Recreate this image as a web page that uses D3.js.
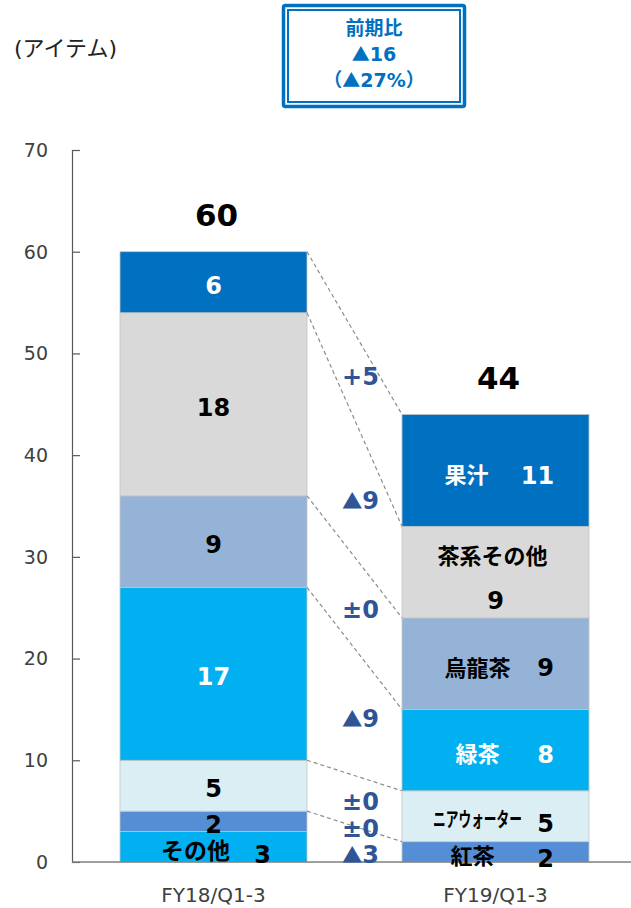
<!DOCTYPE html>
<html lang="ja">
<head>
<meta charset="utf-8">
<script src="https://cdn.jsdelivr.net/npm/d3@7"></script>
<style>
  html, body { margin: 0; padding: 0; background: #fff; }
  svg { display: block; }
  text { font-family: "DejaVu Sans", "Noto Sans CJK JP", sans-serif; }
</style>
</head>
<body>
<svg id="chart" width="631" height="908"></svg>
<script>
// Period columns and the item breakdown, stacked bottom to top
const periods = ["FY18/Q1-3", "FY19/Q1-3"];
const items = ["その他", "紅茶", "ニアウォーター", "緑茶", "烏龍茶", "茶系その他", "果汁"];
const fy18Counts = [3, 2, 5, 17, 9, 18, 6];
const fy19Counts = [0, 2, 5, 8, 9, 9, 11];
const yTicks = [0, 10, 20, 30, 40, 50, 60, 70];
const unitLabel = "(アイテム)";
const changeTitle = "前期比";

const W = 631, H = 908;
const svg = d3.select("#chart");

const itemColor = d3.scaleOrdinal()
  .domain(items)
  .range(["#00b0f0", "#558ed5", "#daeef3", "#00b0f0", "#95b3d7", "#d9d9d9", "#0070c0"]);
const whiteText = new Set(["緑茶", "果汁"]);

const y = d3.scaleLinear().domain([0, 70]).range([862, 150]);
const x = d3.scaleBand().domain(periods).range([72, 637])
  .paddingInner(0.3369).paddingOuter(0.1702);
const bw = x.bandwidth();

// build stacked rows per period
const countsByPeriod = [fy18Counts, fy19Counts];
const rows = periods.map((p, pi) => {
  const obj = { period: p };
  items.forEach((it, i) => obj[it] = countsByPeriod[pi][i]);
  return obj;
});
const stack = d3.stack().keys(items)(rows);

// writes a change string; the ▲ mark is set in the CJK face
function writeChange(sel, s, markSize) {
  sel.text(null);
  if (s.indexOf("▲") >= 0) {
    const parts = s.split("▲");
    if (parts[0]) sel.append("tspan").text(parts[0]);
    sel.append("tspan").attr("font-family", "Noto Sans CJK JP")
      .attr("font-size", markSize).text("▲");
    sel.append("tspan").text(parts[1]);
  } else {
    sel.text(s);
  }
}

// y axis
const yAxis = d3.axisRight(y).tickValues(yTicks).tickSize(8).tickFormat("");
const ga = svg.append("g").attr("transform", "translate(72,0)").call(yAxis);
ga.select(".domain").attr("stroke", "#595959").attr("stroke-width", 1.2);
ga.selectAll(".tick line").attr("stroke", "#595959").attr("stroke-width", 1.2);
svg.append("g").selectAll("text").data(yTicks).join("text")
  .attr("x", 48).attr("y", d => y(d)).attr("dy", "0.36em")
  .attr("text-anchor", "end").attr("font-size", 19).attr("fill", "#404040")
  .text(d => d);

// bars
const segs = [];
stack.forEach((layer, li) => {
  layer.forEach((s, pi) => {
    segs.push({ item: items[li], idx: li, pi, y0: s[0], y1: s[1], v: s[1] - s[0], period: periods[pi] });
  });
});
svg.append("g").selectAll("rect").data(segs.filter(d => d.v > 0)).join("rect")
  .attr("x", d => x(d.period))
  .attr("y", d => y(d.y1))
  .attr("width", bw)
  .attr("height", d => y(d.y0) - y(d.y1))
  .attr("fill", d => itemColor(d.item))
  .attr("stroke", "#c4c4c4").attr("stroke-width", 0.8);

// baseline
svg.append("line").attr("x1", 72).attr("x2", W).attr("y1", y(0)).attr("y2", y(0))
  .attr("stroke", "#7f7f7f").attr("stroke-width", 1.6);

// dashed connectors between matching segment tops
const s18 = segs.filter(d => d.pi === 0), s19 = segs.filter(d => d.pi === 1);
const xR = x(periods[0]) + bw, xL = x(periods[1]);
const connectors = items.map((it, i) => ({ a: s18[i], b: s19[i] })).filter(c => c.b.v > 0);
svg.append("g").selectAll("line").data(connectors).join("line")
  .attr("x1", xR).attr("y1", c => y(c.a.y1))
  .attr("x2", xL).attr("y2", c => y(c.b.y1))
  .attr("stroke", "#8c8c8c").attr("stroke-width", 1.2).attr("stroke-dasharray", "4,3");

// change labels between the bars
const fmtChange = d => d > 0 ? "+" + d : d < 0 ? "▲" + Math.abs(d) : "±0";
const changeNudge = { "茶系その他": 12, "烏龍茶": 7, "緑茶": 6, "紅茶": -8 };
const changes = items.map((it, i) => {
  const a = s18[i], b = s19[i];
  const mid = ((a.y0 + a.y1) / 2 + (b.y0 + b.y1) / 2) / 2;
  return { item: it, d: fy19Counts[i] - fy18Counts[i], cy: y(mid) + (changeNudge[it] || 0) };
});
svg.append("g").selectAll("text").data(changes).join("text")
  .attr("x", (xR + xL) / 2 + 6).attr("y", d => d.cy).attr("dy", "0.36em")
  .attr("text-anchor", "middle").attr("font-size", 24).attr("font-weight", 700)
  .attr("fill", "#2f5597").each(function (d) { writeChange(d3.select(this), fmtChange(d.d), "0.85em"); });

// segment labels
const lab = svg.append("g").attr("font-weight", 700).attr("font-size", 24);
function put(txt, cx, cy, color, size, extra) {
  const t = lab.append("text").attr("x", cx).attr("y", cy).attr("dy", "0.36em")
    .attr("text-anchor", "middle").attr("fill", color).text(txt);
  if (size) t.attr("font-size", size);
  if (extra) extra(t);
  return t;
}
const c18 = x(periods[0]) + bw / 2, c19 = x(periods[1]) + bw / 2;
s18.forEach(d => {
  const cy = (y(d.y0) + y(d.y1)) / 2 + 3;
  const col = whiteText.has(d.item) ? "#fff" : "#000";
  if (d.item === "その他") {
    put(d.item, c18 - 18, cy + 1, col, 23);
    put(d.v, c18 + 49, cy + 5, col);
  } else {
    put(d.v, c18, cy, col);
  }
});
s19.filter(d => d.v > 0).forEach(d => {
  const cy = (y(d.y0) + y(d.y1)) / 2 + 4;
  const col = whiteText.has(d.item) ? "#fff" : "#000";
  if (d.item === "茶系その他") {
    put(d.item, c19 - 3, cy - 20, col, 22);
    put(d.v, c19, cy + 24, col);
  } else if (d.item === "果汁") {
    put(d.item, c19 - 29, cy + 1, col, 22);
    put(d.v, c19 + 42, cy + 1, col);
  } else if (d.item === "ニアウォーター") {
    put(d.item, c19 - 18, cy, col, 20, t => t.attr("textLength", 89).attr("lengthAdjust", "spacingAndGlyphs"));
    put(d.v, c19 + 50, cy + 3, col);
  } else if (d.item === "紅茶") {
    put(d.item, c19 - 23, cy, col, 22);
    put(d.v, c19 + 50, cy + 3, col);
  } else {
    put(d.item, c19 - 18, cy, col, 22);
    put(d.v, c19 + 50, cy, col);
  }
});

// totals above bars
const totals = countsByPeriod.map(a => d3.sum(a));
svg.append("g").selectAll("text").data(totals).join("text")
  .attr("x", (d, i) => x(periods[i]) + bw / 2 + 3)
  .attr("y", d => y(d) - 37).attr("dy", "0.36em")
  .attr("text-anchor", "middle").attr("font-size", 31).attr("font-weight", 700)
  .attr("fill", "#000").text(d => d);

// period labels
svg.append("g").selectAll("text").data(periods).join("text")
  .attr("x", d => x(d) + bw / 2).attr("y", 902)
  .attr("text-anchor", "middle").attr("font-size", 20)
  .attr("fill", "#404040")
  .text(d => d);

// unit label
svg.append("text").attr("x", 14).attr("y", 56).attr("font-size", 22).attr("fill", "#222")
  .text(unitLabel);

// change summary box
const diffTotal = totals[1] - totals[0];
const pct = Math.round(Math.abs(diffTotal) / totals[0] * 100);
const box = svg.append("g");
box.append("rect").attr("x", 283.5).attr("y", 5.5).attr("width", 181).attr("height", 101)
  .attr("rx", 2).attr("fill", "#fff").attr("stroke", "#0070c0").attr("stroke-width", 3.5);
box.append("rect").attr("x", 288).attr("y", 10).attr("width", 172).attr("height", 92)
  .attr("fill", "none").attr("stroke", "#0070c0").attr("stroke-width", 2);
const bx = 374;
const boxLines = [changeTitle, fmtChange(diffTotal), "（" + (diffTotal < 0 ? "▲" : "+") + pct + "%）"];
box.selectAll("text.t").data(boxLines).join("text").attr("class", "t")
  .attr("x", bx).attr("y", (d, i) => 35 + i * 26)
  .attr("text-anchor", "middle").attr("font-size", 19).attr("font-weight", 700)
  .attr("fill", "#0070c0").each(function (d) { writeChange(d3.select(this), d, "0.95em"); });
</script>
</body>
</html>
